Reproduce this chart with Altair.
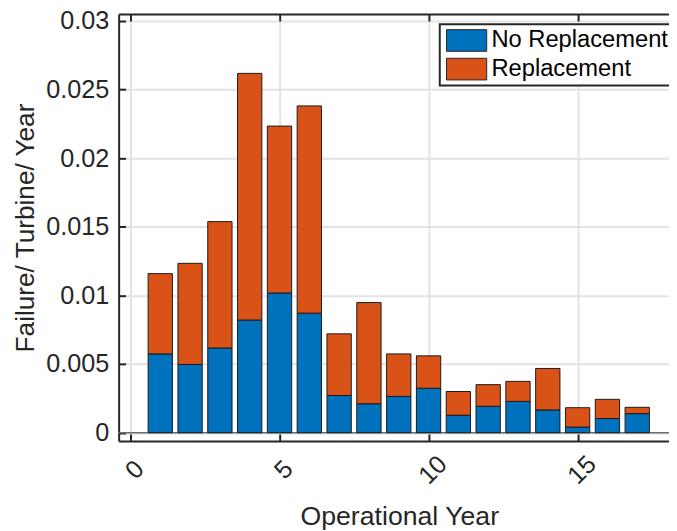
import altair as alt
import pandas as pd

years = list(range(1, 18))
series = ["No Replacement", "Replacement"]
colors = ["#0072BD", "#D95319"]
no_replacement = [0.00574, 0.00497, 0.00617, 0.00821, 0.01018, 0.00871, 0.00271,
                  0.00211, 0.00264, 0.00324, 0.00127, 0.00192, 0.00228, 0.00166,
                  0.00041, 0.00103, 0.00139]
replacement = [0.00585, 0.00737, 0.00921, 0.01797, 0.01216, 0.01510, 0.00449,
               0.00737, 0.00310, 0.00236, 0.00173, 0.00158, 0.00146, 0.00302,
               0.00141, 0.00140, 0.00046]
x_ticks = [0, 5, 10, 15]
y_ticks = [0, 0.005, 0.01, 0.015, 0.02, 0.025, 0.03]

rows = []
for i, yr in enumerate(years):
    rows.append({"year": yr, "series": series[0], "value": no_replacement[i], "order": 0})
    rows.append({"year": yr, "series": series[1], "value": replacement[i], "order": 1})
df = pd.DataFrame(rows)

FONT = "Liberation Sans"
xscale = alt.Scale(domain=[-0.23, 17.9], nice=False, zero=False)
yscale = alt.Scale(domain=[-0.0006, 0.0305], nice=False, zero=False)

baseline = alt.Chart(pd.DataFrame({"value": [0.0]})).mark_rule(
    color="#6e6e6e", strokeWidth=1.5
).encode(y=alt.Y("value:Q", scale=yscale))

bars = alt.Chart(df).mark_bar(size=24.6, stroke="#1a1a1a", strokeWidth=1).encode(
    x=alt.X("year:Q", scale=xscale,
            axis=alt.Axis(orient="bottom", values=x_ticks, title="Operational Year",
                          labelAngle=-45, labelAlign="center", labelBaseline="middle",
                          labelPadding=36, labelOffset=4, labelFlush=False,
                          tickSize=alt.ExprRef("-7"), titlePadding=15, titleX=284,
                          labelFontSize=25.5, titleFontSize=27, grid=True)),
    y=alt.Y("value:Q", stack="zero", scale=yscale,
            axis=alt.Axis(orient="left", values=y_ticks, format="~g",
                          title="Failure/ Turbine/ Year", labelPadding=17,
                          labelFlush=False, tickSize=alt.ExprRef("-7"),
                          titlePadding=6, labelFontSize=25.5, titleFontSize=26.5,
                          grid=True)),
    color=alt.Color("series:N", scale=alt.Scale(domain=series, range=colors),
                    legend=alt.Legend(title=None, orient="none", legendX=325, legendY=10.2,
                                      direction="vertical",
                                      symbolType="M-1.6,-0.862H1.6V0.862H-1.6Z", symbolSize=646,
                                      symbolOffset=10.65,
                                      symbolStrokeColor="#262626", symbolStrokeWidth=1,
                                      labelFontSize=24, labelFont=FONT, labelColor="#000000",
                                      labelLimit=400, labelOffset=11.6, strokeColor="#262626",
                                      fillColor="#ffffff", padding=3, rowPadding=2)),
    order=alt.Order("order:Q"),
)

top = alt.Chart(pd.DataFrame({"year": x_ticks})).mark_point(opacity=0).encode(
    x=alt.X("year:Q", scale=xscale,
            axis=alt.Axis(orient="top", values=x_ticks, labels=False, title=None,
                          grid=False, tickSize=alt.ExprRef("-7")))
)

chart = alt.layer(baseline, bars, top).resolve_axis(x="independent").properties(
    width=557, height=432,
    autosize=alt.AutoSizeParams(type="none"),
    padding={"left": 112, "top": 3, "right": 0, "bottom": 88},
).configure_axis(
    domainColor="#262626", domainWidth=2, tickColor="#262626", tickWidth=2,
    labelColor="#262626", titleColor="#262626", labelFont=FONT, titleFont=FONT,
    titleFontWeight="normal", gridColor="#e3e3e3", gridWidth=2,
).configure_legend(strokeWidth=2).configure_view(strokeWidth=0)

chart.save("out.html", embed_options={"renderer": "svg", "actions": False})
